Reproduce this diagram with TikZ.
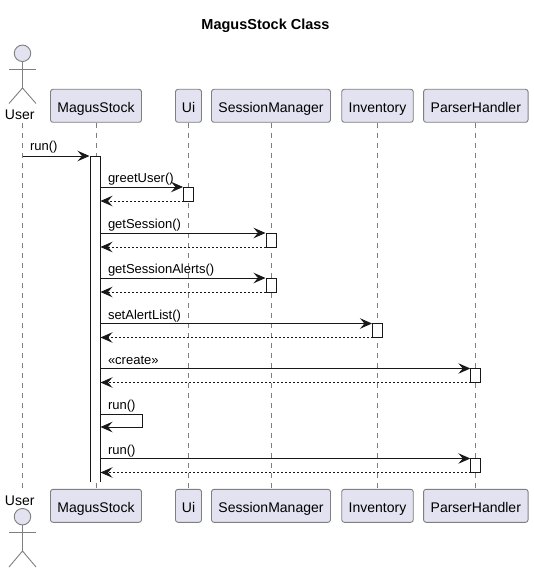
\documentclass[tikz,border=0pt]{standalone}
\usepackage{fontspec}
\setmainfont{Liberation Sans}
\usetikzlibrary{arrows.meta}
\definecolor{partfill}{HTML}{E2E2F0}
\definecolor{partline}{HTML}{7F7F7F}
\definecolor{msgline}{HTML}{181818}
\begin{document}
\begin{tikzpicture}[
    x=1pt, y=-1pt,
    every node/.style={align=center, font=\fontsize{13}{15}\selectfont},
    part box/.style={draw=partline, fill=partfill, rounded corners=2.5pt, line width=0.9pt, inner sep=0pt, minimum height=33pt, text height=13pt, text depth=0pt, font=\fontsize{14}{16}\selectfont},
    actor head/.style={draw=partline, fill=partfill, circle, line width=0.9pt, inner sep=0pt, minimum size=16.5pt},
    actor line/.style={draw=partline, line width=0.9pt},
    life line/.style={draw=partline, line width=0.8pt, dash pattern=on 5pt off 5pt},
    active bar/.style={draw=msgline, fill=white, line width=0.9pt},
    call arrow/.style={draw=msgline, line width=0.9pt, -{Stealth[length=12pt, width=10.5pt, inset=4.5pt]}},
    back arrow/.style={draw=msgline, line width=0.9pt, dash pattern=on 2pt off 2pt, -{Stealth[length=12pt, width=10.5pt, inset=4.5pt]}},
    call label/.style={anchor=base west, inner sep=0pt, outer sep=0pt},
    actor label/.style={anchor=base, inner sep=0pt, font=\fontsize{14}{16}\selectfont},
    ]
\useasboundingbox (0,0) rectangle (533,572);
\node[font=\bfseries\fontsize{14.5}{16}\selectfont] (title) at (265.5,26) {MagusStock Class};
% heads of the columns
\node[actor label] (UserT) at (19.7,120) {User};
\node[part box, minimum width=91pt] (MagusT) at (96,105.8) {MagusStock};
\node[part box, minimum width=26pt] (UiT) at (188.5,105.8) {Ui};
\node[part box, minimum width=119pt] (SessionT) at (271,105.8) {SessionManager};
\node[part box, minimum width=71.5pt] (InventoryT) at (377.5,105.8) {Inventory};
\node[part box, minimum width=104.5pt] (ParserT) at (475.8,105.8) {ParserHandler};
\node[actor label] (UserB) at (19.7,505) {User};
\node[part box, minimum width=91pt] (MagusB) at (96,505.8) {MagusStock};
\node[part box, minimum width=26pt] (UiB) at (188.5,505.8) {Ui};
\node[part box, minimum width=119pt] (SessionB) at (271,505.8) {SessionManager};
\node[part box, minimum width=71.5pt] (InventoryB) at (377.5,505.8) {Inventory};
\node[part box, minimum width=104.5pt] (ParserB) at (475.8,505.8) {ParserHandler};
% the two actors
\node[actor head] (headT) at (22.5,53.3) {};
\coordinate (hipT) at (22.5,88);
\coordinate (armLT) at (9,69.5);
\coordinate (armRT) at (36,69.5);
\coordinate (legLT) at (9,103.5);
\coordinate (legRT) at (36,103.5);
\draw[actor line] (headT) -- (hipT);
\draw[actor line] (armLT) -- (armRT);
\draw[actor line] (legLT) -- (hipT) -- (legRT);
\node[actor head] (headB) at (22.5,516.7) {};
\coordinate (hipB) at (22.5,551);
\coordinate (armLB) at (9,532.5);
\coordinate (armRB) at (36,532.5);
\coordinate (legLB) at (9,567);
\coordinate (legRB) at (36,567);
\draw[actor line] (headB) -- (hipB);
\draw[actor line] (armLB) -- (armRB);
\draw[actor line] (legLB) -- (hipB) -- (legRB);
% lifelines
\coordinate (UserTL) at (22.5,123);
\coordinate (UserBL) at (22.5,489);
\draw[life line] (UserTL) -- (UserBL);
\draw[life line] (MagusT) -- (MagusB);
\draw[life line] (UiT) -- (UiB);
\draw[life line] (SessionT) -- (SessionB);
\draw[life line] (InventoryT) -- (InventoryB);
\draw[life line] (ParserT) -- (ParserB);
% activation bars
\fill[white] (90.5,156) rectangle (100.5,482);
\draw[active bar] (90.5,482) -- (90.5,156) -- (100.5,156) -- (100.5,482);
\foreach \name/\xa/\ya/\yb in {barUi/188.5/187/201, barSessionA/271/233/247, barSessionB/271/278/292, barInventory/377.5/323.5/337.5, barParserA/475.8/368.5/382.5, barParserB/475.8/458.5/472.5}{
    \draw[active bar] (\xa-5,\ya) rectangle (\xa+5,\yb);
    \coordinate (\name U) at (\xa-5.5,\ya);
    \coordinate (\name D) at (\xa-5,\yb);
}
% messages
\coordinate (userRun) at (22.5,156);
\coordinate (magusRun) at (89.5,156);
\draw[call arrow] (userRun) -- (magusRun);
\node[call label] (runA) at (30,151) {run()};
\foreach \name/\bar/\ya/\yb/\txt in {greet/barUi/187/201/greetUser(), session/barSessionA/233/247/getSession(), alerts/barSessionB/278/292/getSessionAlerts(), alertlist/barInventory/323.5/337.5/setAlertList(), create/barParserA/368.5/382.5/«create», runC/barParserB/458.5/472.5/run()}{
    \coordinate (\name S) at (100.5,\ya);
    \coordinate (\name R) at (100.5,\yb);
    \draw[call arrow] (\name S) -- (\bar U);
    \draw[back arrow] (\bar D) -- (\name R);
    \node[call label] (\name L) at (108,\ya-4.5) {\txt};
}
% call to itself
\coordinate (selfA) at (100.5,414);
\coordinate (selfB) at (142.5,414);
\coordinate (selfC) at (142.5,427);
\coordinate (selfD) at (100.5,427);
\draw[call arrow] (selfA) -- (selfB) -- (selfC) -- (selfD);
\node[call label] (runB) at (108,409.5) {run()};
\end{tikzpicture}
\end{document}
